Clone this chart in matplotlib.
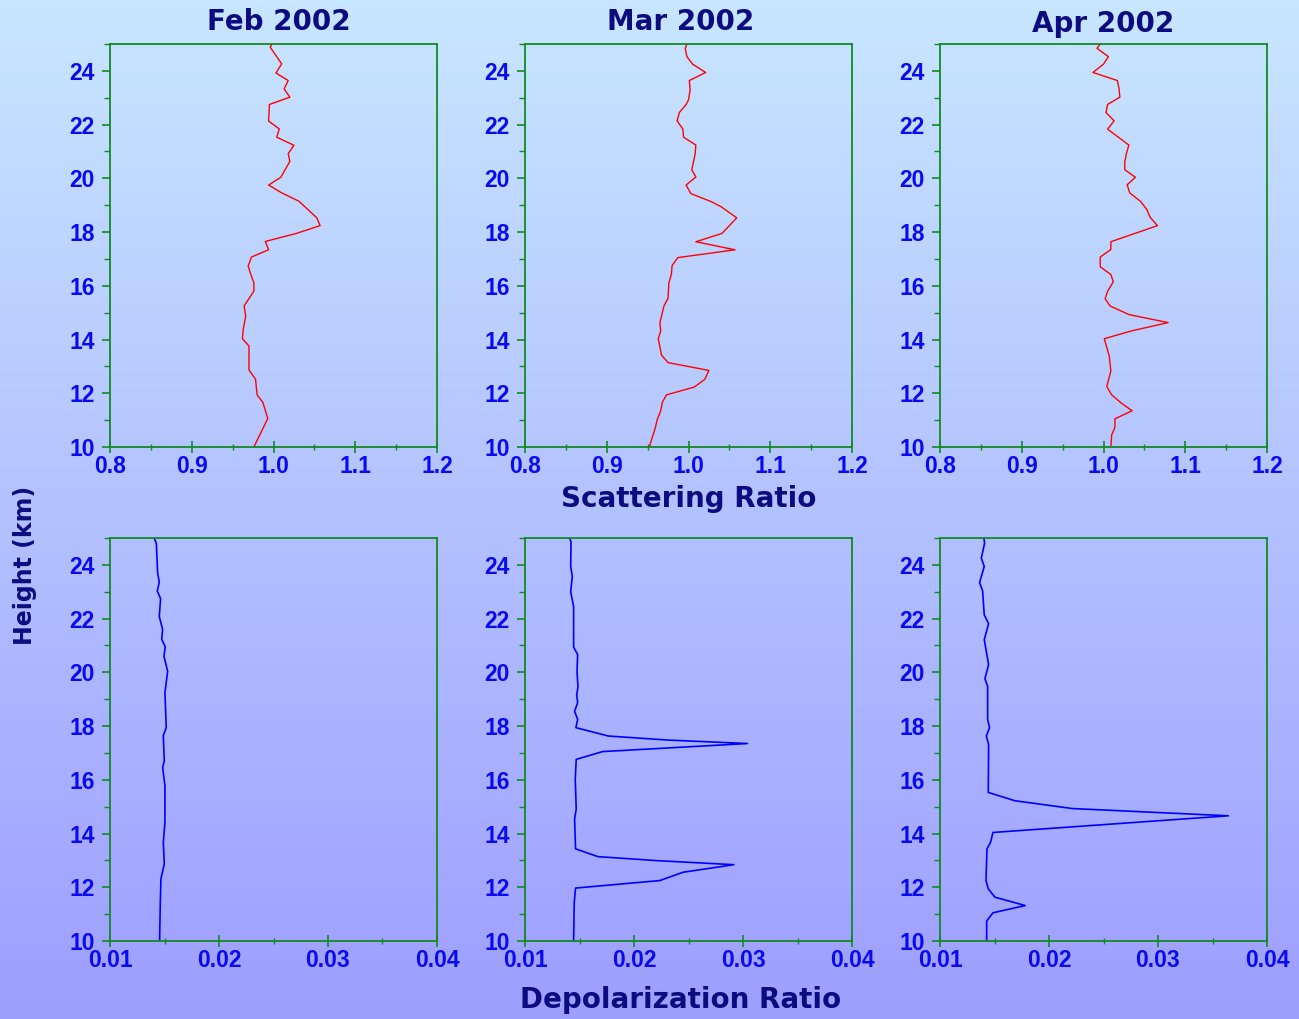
import numpy as np
import matplotlib
matplotlib.use("Agg")
import matplotlib.pyplot as plt
from matplotlib.colors import LinearSegmentedColormap
from matplotlib.ticker import MultipleLocator, FormatStrFormatter

plt.rcParams["font.family"] = ["Liberation Sans", "DejaVu Sans"]
plt.rcParams["font.weight"] = "bold"

MONTHS = ["Feb 2002", "Mar 2002", "Apr 2002"]

# scattering ratio profiles (height km, ratio)
feb_sr_h = [25.0, 24.88, 24.26, 23.92, 23.64, 23.33, 23.02, 22.75, 22.13, 21.84, 21.53, 21.23,
            20.92, 20.63, 20.04, 19.75, 19.46, 19.15, 18.53, 18.24, 17.95, 17.65, 17.34, 17.07,
            16.73, 16.36, 16.11, 15.80, 15.25, 14.88, 14.38, 14.03, 13.76, 12.87, 12.52, 11.94,
            11.66, 11.06, 10.0]
feb_sr = [0.998, 0.996, 1.010, 1.003, 1.018, 1.013, 1.020, 0.995, 0.994, 1.007, 1.004, 1.025,
          1.018, 1.020, 1.009, 0.994, 1.010, 1.031, 1.053, 1.057, 1.028, 0.990, 0.994, 0.973,
          0.969, 0.973, 0.976, 0.976, 0.964, 0.966, 0.963, 0.962, 0.970, 0.970, 0.978, 0.980,
          0.987, 0.993, 0.976]

mar_sr_h = [25.0, 24.84, 24.53, 24.25, 23.94, 23.64, 23.29, 22.92, 22.74, 22.46, 22.14, 21.84,
            21.53, 21.24, 20.88, 20.32, 20.05, 19.75, 19.43, 19.13, 18.94, 18.53, 17.95, 17.64,
            17.34, 17.05, 16.76, 16.42, 16.11, 15.54, 15.25, 14.63, 14.32, 14.03, 13.42, 13.14,
            12.85, 12.52, 12.23, 11.94, 11.66, 11.35, 11.04, 10.67, 10.0]
mar_sr = [0.998, 0.996, 0.998, 1.005, 1.021, 1.001, 1.002, 1.000, 0.997, 0.989, 0.986, 0.993,
          0.994, 1.009, 1.008, 1.004, 1.009, 0.997, 1.003, 1.028, 1.040, 1.059, 1.041, 1.009,
          1.057, 0.987, 0.980, 0.979, 0.976, 0.975, 0.970, 0.965, 0.966, 0.963, 0.967, 0.975,
          1.025, 1.020, 1.007, 0.973, 0.968, 0.966, 0.962, 0.959, 0.952]

apr_sr_h = [25.0, 24.84, 24.53, 24.25, 23.94, 23.64, 23.34, 23.02, 22.75, 22.45, 22.14, 21.83,
            21.24, 20.92, 20.61, 20.32, 20.04, 19.76, 19.46, 19.15, 18.84, 18.55, 18.24, 17.64,
            17.35, 17.07, 16.71, 16.42, 16.15, 15.80, 15.52, 15.25, 14.93, 14.63, 14.32, 14.03,
            13.39, 12.83, 12.25, 11.94, 11.63, 11.35, 11.05, 10.73, 10.45, 10.0]
apr_sr = [0.996, 0.992, 1.006, 1.000, 0.987, 1.017, 1.019, 1.020, 1.005, 1.003, 1.013, 1.005,
          1.031, 1.028, 1.026, 1.026, 1.039, 1.029, 1.032, 1.045, 1.053, 1.057, 1.066, 1.009,
          1.009, 0.996, 0.996, 1.009, 1.012, 1.005, 1.002, 1.008, 1.031, 1.079, 1.034, 1.001,
          1.007, 1.009, 1.004, 1.010, 1.022, 1.035, 1.014, 1.014, 1.010, 1.009]

# depolarization ratio profiles (height km, ratio)
feb_dr_h = [25.0, 24.8, 23.69, 23.36, 23.03, 22.74, 22.08, 21.59, 21.24, 20.94, 20.6, 20.04,
            19.24, 17.94, 17.65, 16.70, 16.46, 15.78, 14.41, 13.67, 12.87, 12.31, 11.32, 10.0]
feb_dr = [0.01406, 0.01425, 0.01437, 0.01452, 0.01434, 0.01464, 0.01452, 0.01483, 0.01474,
          0.01507, 0.01495, 0.01529, 0.01504, 0.01516, 0.01489, 0.01498, 0.01483, 0.01504,
          0.01504, 0.01489, 0.01498, 0.01467, 0.01461, 0.01455]

mar_dr_h = [25.0, 24.86, 23.94, 23.57, 23.0, 22.45, 20.94, 20.66, 20.04, 19.46, 19.15, 18.87,
            18.55, 18.25, 17.94, 17.63, 17.48, 17.35, 17.05, 16.76, 16.02, 14.91, 14.54, 13.43,
            13.14, 12.99, 12.84, 12.56, 12.25, 11.97, 11.45, 10.0]
mar_dr = [0.01409, 0.01422, 0.01419, 0.01434, 0.01419, 0.01446, 0.01446, 0.01483, 0.01477,
          0.01486, 0.01474, 0.01483, 0.01455, 0.01483, 0.01467, 0.01764, 0.02308, 0.03041,
          0.01712, 0.01470, 0.01461, 0.01470, 0.01455, 0.01464, 0.01669, 0.02216, 0.02916,
          0.02451, 0.02237, 0.01464, 0.01452, 0.01446]

apr_dr_h = [25.0, 24.8, 24.25, 23.94, 23.34, 23.03, 22.14, 21.81, 21.22, 20.29, 19.76, 19.48,
            18.25, 17.94, 17.63, 17.32, 15.53, 15.22, 14.93, 14.66, 14.04, 13.67, 13.43, 12.25,
            11.94, 11.63, 11.32, 11.05, 10.74, 10.0]
apr_dr = [0.01403, 0.01409, 0.01379, 0.01406, 0.01363, 0.01391, 0.01406, 0.01446, 0.01406,
          0.01446, 0.01412, 0.01437, 0.01437, 0.01455, 0.01425, 0.01446, 0.01443, 0.01687,
          0.02216, 0.03646, 0.01486, 0.01464, 0.01431, 0.01422, 0.01443, 0.01504, 0.01782,
          0.01486, 0.01428, 0.01428]

SR = [(feb_sr, feb_sr_h), (mar_sr, mar_sr_h), (apr_sr, apr_sr_h)]
DR = [(feb_dr, feb_dr_h), (mar_dr, mar_dr_h), (apr_dr, apr_dr_h)]

NAVY = "#0c0c80"
BLUE = "#0a0af0"
GREEN = "#118a22"
WIDE = ["DejaVu Sans"]

fig = plt.figure(figsize=(12.99, 10.19), dpi=100)

# vertical gradient background
bg = fig.add_axes([0, 0, 1, 1], zorder=-10)
cmap = LinearSegmentedColormap.from_list("bg", ["#c8e6ff", "#9e9eff"])
bg.imshow(np.linspace(0, 1, 256).reshape(-1, 1), aspect="auto", cmap=cmap,
          extent=[0, 1, 0, 1])
bg.set_axis_off()

lefts = [110 / 1299, 525 / 1299, 940 / 1299]
w, h = 327 / 1299, 403 / 1019
bottoms = [1 - 447 / 1019, 1 - 941 / 1019]


def style_axis(ax, xlim, xmajor, fmt):
    ax.set_facecolor("none")
    ax.set_xlim(*xlim)
    ax.set_ylim(10, 25)
    ax.xaxis.set_major_locator(MultipleLocator(xmajor))
    ax.xaxis.set_minor_locator(MultipleLocator(xmajor / 2))
    ax.xaxis.set_major_formatter(FormatStrFormatter(fmt))
    ax.yaxis.set_major_locator(MultipleLocator(2))
    ax.yaxis.set_minor_locator(MultipleLocator(1))
    for s in ax.spines.values():
        s.set_color(GREEN)
        s.set_linewidth(1.3)
    ax.tick_params(axis="x", which="major", direction="inout", length=8, width=1.2,
                   color=GREEN, labelsize=16.5, labelcolor=BLUE, pad=2)
    ax.tick_params(axis="x", which="minor", direction="inout", length=5, width=1,
                   color=GREEN)
    ax.tick_params(axis="y", which="major", direction="out", length=6, width=1.2,
                   color=GREEN, labelsize=16.5, labelcolor=BLUE, pad=5)
    ax.tick_params(axis="y", which="minor", direction="out", length=4, width=1,
                   color=GREEN)
    for lab in ax.get_xticklabels() + ax.get_yticklabels():
        lab.set_fontweight("bold")


for i in range(3):
    ax = fig.add_axes([lefts[i], bottoms[0], w, h])
    x, y = SR[i]
    ax.plot(x, y, color="#ff0000", lw=1.0)
    style_axis(ax, (0.8, 1.2), 0.1, "%.1f")

    ax = fig.add_axes([lefts[i], bottoms[1], w, h])
    x, y = DR[i]
    ax.plot(x, y, color="#0000ff", lw=1.2)
    style_axis(ax, (0.01, 0.04), 0.01, "%.2f")

title_x = [279, 681, 1103]
title_y = [22, 22, 24]
for name, tx, ty in zip(MONTHS, title_x, title_y):
    fig.text(tx / 1299, 1 - ty / 1019, name, ha="center", va="center",
             fontsize=20, fontweight="bold", color=NAVY, family=WIDE)

fig.text(689 / 1299, 1 - 499 / 1019, "Scattering Ratio", ha="center", va="center",
         fontsize=20, fontweight="bold", color=NAVY, family=WIDE)
fig.text(681 / 1299, 1 - 1000 / 1019, "Depolarization Ratio", ha="center", va="center",
         fontsize=20, fontweight="bold", color=NAVY, family=WIDE)
fig.text(25 / 1299, 1 - 565 / 1019, "Height (km)", ha="center", va="center",
         rotation=90, fontsize=17, fontweight="bold", color=NAVY, family=WIDE)

fig.savefig("out.png", dpi=100)
